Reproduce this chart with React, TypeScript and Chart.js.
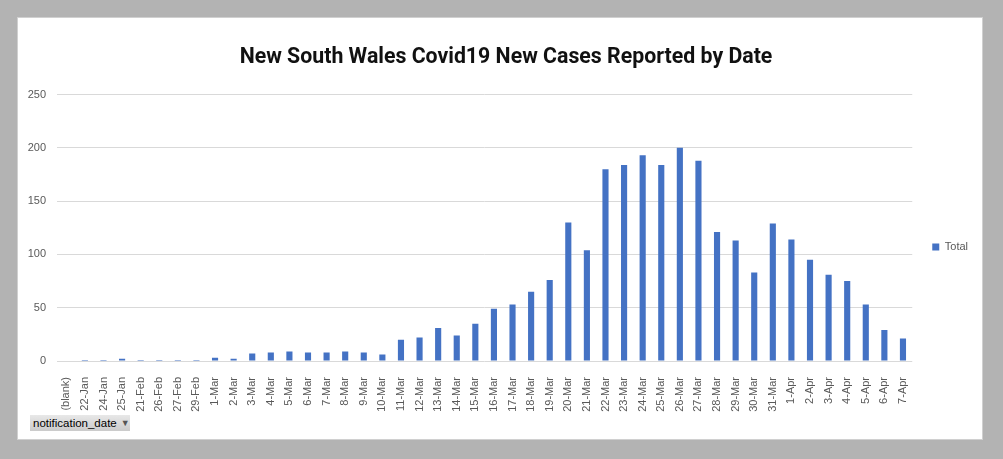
import React, { useEffect, useRef } from "react";
import { Chart, registerables } from "chart.js";

Chart.register(...registerables);

const categories: string[] = [
  "(blank)", "22-Jan", "24-Jan", "25-Jan", "21-Feb", "26-Feb", "27-Feb", "29-Feb",
  "1-Mar", "2-Mar", "3-Mar", "4-Mar", "5-Mar", "6-Mar", "7-Mar", "8-Mar", "9-Mar", "10-Mar",
  "11-Mar", "12-Mar", "13-Mar", "14-Mar", "15-Mar", "16-Mar", "17-Mar", "18-Mar", "19-Mar", "20-Mar",
  "21-Mar", "22-Mar", "23-Mar", "24-Mar", "25-Mar", "26-Mar", "27-Mar", "28-Mar", "29-Mar", "30-Mar",
  "31-Mar", "1-Apr", "2-Apr", "3-Apr", "4-Apr", "5-Apr", "6-Apr", "7-Apr",
];

const totals: (number | null)[] = [
  null, 1, 1, 2, 1, 1, 1, 1,
  3, 2, 7, 8, 9, 8, 8, 9, 8, 6,
  20, 22, 31, 24, 35, 49, 53, 65, 76, 130,
  104, 180, 184, 193, 184, 200, 188, 121, 113, 83,
  129, 114, 95, 81, 75, 53, 29, 21,
];

const seriesName = "Total";
const chartTitle = "New South Wales Covid19 New Cases Reported by Date";
const fieldButton = "notification_date";

const titleShift = {
  id: "titleShift",
  afterLayout(chart: any) {
    const t = chart.titleBlock;
    if (t) t.left += 16;
  },
};

export default function App() {
  const ref = useRef<HTMLCanvasElement | null>(null);

  useEffect(() => {
    if (!ref.current) return;
    const chart = new Chart(ref.current, {
      type: "bar",
      data: {
        labels: categories,
        datasets: [
          {
            label: seriesName,
            data: totals,
            backgroundColor: "#4472C4",
            borderWidth: 0,
            barPercentage: 0.33,
            categoryPercentage: 1,
          },
        ],
      },
      plugins: [titleShift],
      options: {
        responsive: false,
        animation: false,
        devicePixelRatio: 1,
        layout: { padding: { left: 18, right: 25, top: 35, bottom: 0 } },
        plugins: {
          title: {
            display: true,
            text: chartTitle,
            color: "#111111",
            font: { family: "Roboto", size: 21.3, weight: "bold" },
            padding: { top: 10, bottom: 24 },
          },
          legend: {
            display: true,
            position: "right",
            labels: {
              boxWidth: 7,
              boxHeight: 7,
              padding: 20,
              color: "#595959",
              font: { family: "Liberation Sans", size: 11 },
            },
          },
          tooltip: { enabled: false },
        },
        scales: {
          x: {
            grid: { display: false },
            border: { display: false },
            ticks: {
              autoSkip: false,
              minRotation: 90,
              maxRotation: 90,
              padding: 8,
              color: "#595959",
              font: { family: "Liberation Sans", size: 11 },
            },
            afterFit: (scale: any) => {
              scale.height = 98;
            },
          },
          y: {
            min: 0,
            max: 250,
            ticks: {
              stepSize: 50,
              padding: 11,
              color: "#595959",
              font: { family: "Liberation Sans", size: 11 },
            },
            grid: { color: "#d9d9d9", lineWidth: 1, drawTicks: false },
            border: { display: false },
            afterFit: (scale: any) => {
              scale.width = 39;
            },
          },
        },
      },
    });
    return () => chart.destroy();
  }, []);

  return (
    <div
      style={{
        position: "fixed",
        left: 0,
        top: 0,
        width: 1003,
        height: 459,
        background: "#b3b3b3",
        overflow: "hidden",
      }}
    >
      <div
        style={{
          position: "absolute",
          left: 17,
          top: 17,
          width: 964,
          height: 421,
          background: "#ffffff",
          border: "1px solid #d0d0d0",
        }}
      />
      <canvas
        ref={ref}
        width={1003}
        height={459}
        style={{ position: "absolute", left: 0, top: 0, width: 1003, height: 459 }}
      />
      <div
        style={{
          position: "absolute",
          left: 30,
          top: 415,
          width: 100,
          height: 16,
          background: "linear-gradient(#e8e8e8, #cbcbcb)",
          fontFamily: "Liberation Sans",
          fontSize: 11.5,
          lineHeight: "16px",
          color: "#000",
          boxSizing: "border-box",
          paddingLeft: 3,
          whiteSpace: "nowrap",
        }}
      >
        {fieldButton}
        <span style={{ fontSize: 9, color: "#555", marginLeft: 4, position: "relative", top: -1 }}>▼</span>
      </div>
    </div>
  );
}
